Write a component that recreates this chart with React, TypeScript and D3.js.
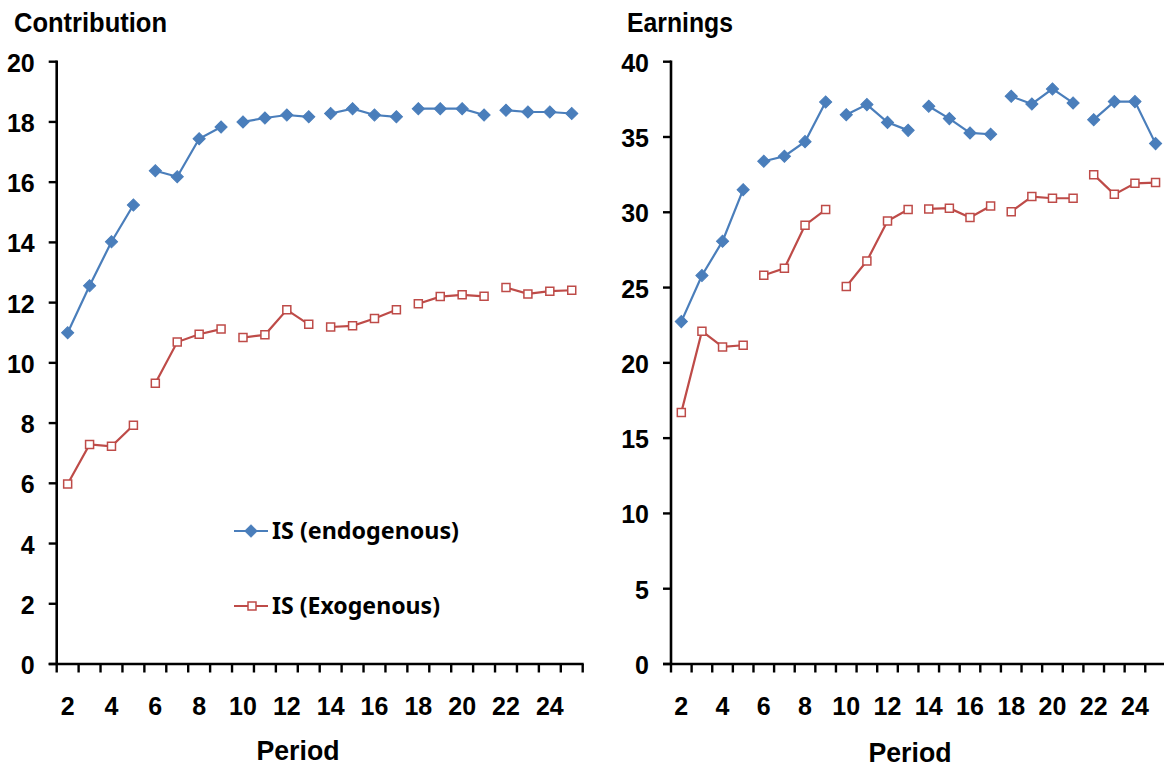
import React from 'react';
import * as d3 from 'd3';

const periods = [2, 3, 4, 5, 6, 7, 8, 9, 10, 11, 12, 13, 14, 15, 16, 17, 18, 19, 20, 21, 22, 23, 24, 25];
const xTickLabels = [2, 4, 6, 8, 10, 12, 14, 16, 18, 20, 22, 24];
const blockStarts = [2, 6, 10, 14, 18, 22];

const contribEndo = [11.0, 12.56, 14.02, 15.24, 16.38, 16.18, 17.44, 17.83, 18.0, 18.13, 18.23, 18.17, 18.28, 18.44, 18.23, 18.17, 18.44, 18.44, 18.44, 18.23, 18.39, 18.33, 18.33, 18.28];
const contribExo = [5.98, 7.29, 7.23, 7.93, 9.32, 10.69, 10.95, 11.12, 10.84, 10.93, 11.76, 11.28, 11.19, 11.23, 11.47, 11.76, 11.96, 12.2, 12.26, 12.21, 12.5, 12.29, 12.38, 12.41];
const earnEndo = [22.74, 25.8, 28.08, 31.5, 33.39, 33.72, 34.69, 37.32, 36.48, 37.15, 35.97, 35.44, 37.04, 36.22, 35.27, 35.18, 37.7, 37.19, 38.19, 37.26, 36.15, 37.35, 37.35, 34.56];
const earnExo = [16.71, 22.1, 21.06, 21.17, 25.82, 26.28, 29.14, 30.18, 25.07, 26.77, 29.42, 30.18, 30.22, 30.27, 29.65, 30.42, 30.04, 31.04, 30.93, 30.93, 32.5, 31.19, 31.92, 31.97];

const contribTicks = [0, 2, 4, 6, 8, 10, 12, 14, 16, 18, 20];
const earnTicks = [0, 5, 10, 15, 20, 25, 30, 35, 40];

const seriesNames = ['IS (endogenous)', 'IS (Exogenous)'];

const BLUE = '#4A7EBB';
const RED = '#BE4B48';
const FONT = '"Liberation Sans", Arial, sans-serif';
const LEGEND_FONT = '"Noto Sans", "Open Sans", sans-serif';

type PanelProps = {
  title: string;
  titleX: number;
  titleLen: number;
  endo: number[];
  exo: number[];
  yMax: number;
  yTicks: number[];
  x0: number;
  x1: number;
  periodX: number;
  periodY: number;
};

function blockOf(p: number) {
  let b = 0;
  blockStarts.forEach((s, i) => {
    if (p >= s) b = i;
  });
  return b;
}

function Panel(props: PanelProps) {
  const { title, titleX, titleLen, endo, exo, yMax, yTicks, x0, x1, periodX, periodY } = props;
  const yTop = 61.7;
  const yBot = 664;
  const x = d3.scaleBand<number>().domain(periods).range([x0, x1]).paddingInner(0).paddingOuter(0);
  const y = d3.scaleLinear().domain([0, yMax]).range([yBot, yTop]);
  const cx = (p: number) => (x(p) as number) + x.bandwidth() / 2;

  const line = d3
    .line<{ p: number; v: number }>()
    .x((d) => cx(d.p))
    .y((d) => y(d.v));

  const segs = (vals: number[]) => {
    const pts = periods.map((p, i) => ({ p, v: vals[i] }));
    return blockStarts.map((_, bi) => pts.filter((d) => blockOf(d.p) === bi));
  };

  const diamond = d3.symbol().type(d3.symbolSquare).size(74)() as string;
  const square = d3.symbol().type(d3.symbolSquare).size(64)() as string;

  const boundaries = [...periods.map((p) => x(p) as number), x1];

  return (
    <g>
      <text x={titleX} y={32} fontFamily={FONT} fontWeight="bold" fontSize={28} textLength={titleLen} lengthAdjust="spacingAndGlyphs">
        {title}
      </text>
      {/* y axis */}
      <line x1={x0} x2={x0} y1={yTop - 1.2} y2={yBot} stroke="#000" strokeWidth={2.6} />
      {yTicks.map((t) => (
        <g key={'yt' + t}>
          <line x1={x0 - 8} x2={x0} y1={y(t)} y2={y(t)} stroke="#000" strokeWidth={2.4} />
          <text x={x0 - 22} y={y(t) + 10} textAnchor="end" fontFamily={FONT} fontWeight="bold" fontSize={25}>
            {t}
          </text>
        </g>
      ))}
      {/* x axis */}
      <line x1={x0 - 8} x2={x1 + 1} y1={yBot} y2={yBot} stroke="#000" strokeWidth={2.6} />
      {boundaries.map((b, i) => (
        <line key={'xt' + i} x1={b} x2={b} y1={yBot} y2={yBot + 8.5} stroke="#000" strokeWidth={2.4} />
      ))}
      {xTickLabels.map((p) => (
        <text key={'xl' + p} x={cx(p)} y={715} textAnchor="middle" fontFamily={FONT} fontWeight="bold" fontSize={25}>
          {p}
        </text>
      ))}
      <text x={periodX} y={periodY} textAnchor="middle" fontFamily={FONT} fontWeight="bold" fontSize={28} textLength={83} lengthAdjust="spacingAndGlyphs">
        Period
      </text>
      {/* series */}
      {segs(endo).map((s, i) => (
        <path key={'be' + i} d={line(s) || ''} fill="none" stroke={BLUE} strokeWidth={2.2} />
      ))}
      {segs(exo).map((s, i) => (
        <path key={'re' + i} d={line(s) || ''} fill="none" stroke={RED} strokeWidth={2.2} />
      ))}
      {periods.map((p, i) => (
        <path key={'bm' + p} d={diamond} transform={`translate(${cx(p)},${y(endo[i])}) rotate(45)`} fill={BLUE} stroke={BLUE} strokeWidth={1} />
      ))}
      {periods.map((p, i) => (
        <path key={'rm' + p} d={square} transform={`translate(${cx(p)},${y(exo[i])})`} fill="#fff" stroke={RED} strokeWidth={1.5} />
      ))}
    </g>
  );
}

export default function App() {
  const diamond = d3.symbol().type(d3.symbolSquare).size(74)() as string;
  const square = d3.symbol().type(d3.symbolSquare).size(64)() as string;
  return (
    <svg width={1164} height={768} style={{ position: 'absolute', left: 0, top: 0, background: '#fff' }}>
      <rect x={0} y={0} width={1164} height={768} fill="#fff" />
      <Panel
        title="Contribution"
        titleX={14}
        titleLen={153}
        endo={contribEndo}
        exo={contribExo}
        yMax={20}
        yTicks={contribTicks}
        x0={56.7}
        x1={582.7}
        periodX={298}
        periodY={760}
      />
      <Panel
        title="Earnings"
        titleX={627}
        titleLen={106}
        endo={earnEndo}
        exo={earnExo}
        yMax={40}
        yTicks={earnTicks}
        x0={671}
        x1={671 + 24 * 20.62}
        periodX={910}
        periodY={762}
      />
      {/* legend */}
      <g>
        <line x1={234} x2={268} y1={531} y2={531} stroke={BLUE} strokeWidth={2.2} />
        <path d={diamond} transform="translate(251,531) rotate(45)" fill={BLUE} stroke={BLUE} strokeWidth={1} />
        <text x={272} y={539} fontFamily={LEGEND_FONT} fontWeight="bold" fontSize={24} textLength={187} lengthAdjust="spacingAndGlyphs">
          {seriesNames[0]}
        </text>
        <line x1={234} x2={268} y1={606} y2={606} stroke={RED} strokeWidth={2.2} />
        <path d={square} transform="translate(252,606)" fill="#fff" stroke={RED} strokeWidth={1.5} />
        <text x={272} y={614} fontFamily={LEGEND_FONT} fontWeight="bold" fontSize={24} textLength={168} lengthAdjust="spacingAndGlyphs">
          {seriesNames[1]}
        </text>
      </g>
    </svg>
  );
}
